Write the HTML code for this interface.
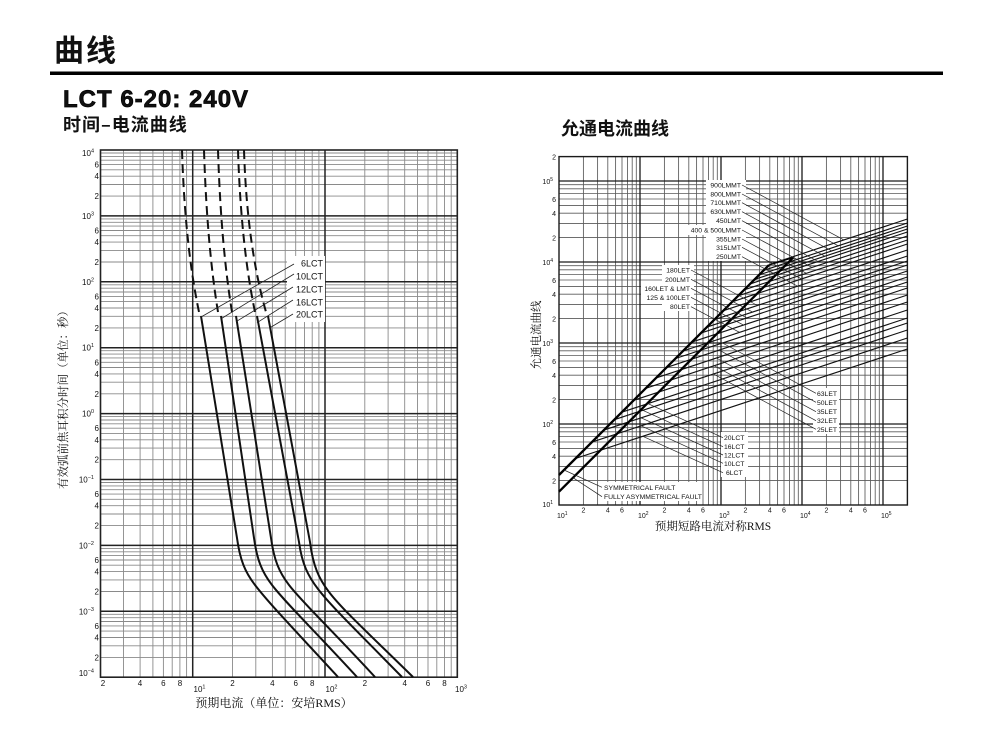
<!DOCTYPE html>
<html><head><meta charset="utf-8"><style>
html,body{margin:0;padding:0;background:#fff;}
svg{display:block;}
text{font-family:"Liberation Sans","Noto Sans CJK SC",sans-serif;fill:#111;}
.cjk{font-family:"Noto Sans CJK SC",sans-serif;font-weight:bold;}
.ser{font-family:"Liberation Serif","Noto Serif CJK SC",serif;}
</style></head><body>
<svg width="987" height="751" viewBox="0 0 987 751" xmlns="http://www.w3.org/2000/svg">
<rect width="987" height="751" fill="#fff"/>
<!-- Headings -->
<text x="54" y="61" class="cjk" font-size="30" letter-spacing="2">曲线</text>
<rect x="50" y="71.5" width="893" height="3.5" fill="#000"/>
<text x="63" y="107" font-size="24" font-weight="bold" letter-spacing="1" stroke="#000" stroke-width="0.7" fill="#000">LCT 6-20: 240V</text>
<text x="63" y="131" class="cjk" font-size="18" letter-spacing="1">时间–电流曲线</text>
<text x="561" y="135" class="cjk" font-size="18">允通电流曲线</text>

<!-- ============ LEFT CHART ============ -->
<g fill="none">
<path stroke="#8a8a8a" stroke-width="0.9" d="M123.5,150V677.2M140.1,150V677.2M152.9,150V677.2M163.4,150V677.2M172.2,150V677.2M179.9,150V677.2M186.6,150V677.2M232.5,150V677.2M255.8,150V677.2M272.4,150V677.2M285.2,150V677.2M295.7,150V677.2M304.5,150V677.2M312.2,150V677.2M318.9,150V677.2M364.8,150V677.2M388.1,150V677.2M404.7,150V677.2M417.5,150V677.2M428,150V677.2M436.8,150V677.2M444.5,150V677.2M451.2,150V677.2"/>
<path stroke="#8a8a8a" stroke-width="0.9" d="M100.5,196.1H457.3M100.5,184.5H457.3M100.5,176.2H457.3M100.5,169.8H457.3M100.5,164.6H457.3M100.5,160.2H457.3M100.5,156.4H457.3M100.5,153H457.3
M100.5,262H457.3M100.5,250.4H457.3M100.5,242.1H457.3M100.5,235.7H457.3M100.5,230.5H457.3M100.5,226.1H457.3M100.5,222.3H457.3M100.5,218.9H457.3
M100.5,327.9H457.3M100.5,316.3H457.3M100.5,308H457.3M100.5,301.6H457.3M100.5,296.4H457.3M100.5,292H457.3M100.5,288.2H457.3M100.5,284.8H457.3
M100.5,393.8H457.3M100.5,382.2H457.3M100.5,373.9H457.3M100.5,367.5H457.3M100.5,362.3H457.3M100.5,357.9H457.3M100.5,354.1H457.3M100.5,350.7H457.3
M100.5,459.7H457.3M100.5,448.1H457.3M100.5,439.8H457.3M100.5,433.4H457.3M100.5,428.2H457.3M100.5,423.8H457.3M100.5,420H457.3M100.5,416.6H457.3
M100.5,525.6H457.3M100.5,514H457.3M100.5,505.7H457.3M100.5,499.3H457.3M100.5,494.1H457.3M100.5,489.7H457.3M100.5,485.9H457.3M100.5,482.5H457.3
M100.5,591.5H457.3M100.5,579.9H457.3M100.5,571.6H457.3M100.5,565.2H457.3M100.5,560H457.3M100.5,555.6H457.3M100.5,551.8H457.3M100.5,548.4H457.3
M100.5,657.4H457.3M100.5,645.8H457.3M100.5,637.5H457.3M100.5,631.1H457.3M100.5,625.9H457.3M100.5,621.5H457.3M100.5,617.7H457.3M100.5,614.3H457.3"/>
<path stroke="#222" stroke-width="1.5" d="M192.7,150V677.2M325,150V677.2M100.5,215.9H457.3M100.5,281.8H457.3M100.5,347.7H457.3M100.5,413.6H457.3M100.5,479.5H457.3M100.5,545.4H457.3M100.5,611.3H457.3"/>
<rect x="100.5" y="150" width="356.8" height="527.2" stroke="#222" stroke-width="1.6"/>
</g>
<!-- label box -->
<rect x="287" y="256" width="38" height="66" fill="#fff"/>
<!-- dashed parts -->
<g fill="none" stroke="#111" stroke-width="2" stroke-dasharray="9,5">
<path d="M182,150 Q185,245 199,312"/>
<path d="M204,150 Q207,245 218,312"/>
<path d="M218,150 Q221,245 232,312"/>
<path d="M238,150 Q241,245 255,312"/>
<path d="M244,150 Q247,245 266,312"/>
</g>
<!-- solid parts -->
<g fill="none" stroke="#111" stroke-width="2">
<path d="M201,316 L237,538 C240,560 245,572 255,585 C268,602 290,625 338,677"/>
<path d="M221,316 L254,538 C257,560 262,572 272,585 C285,602 309,625 357,677"/>
<path d="M236,316 L271,538 C274,560 279,572 289,585 C302,602 327,625 375,677"/>
<path d="M257,316 L299,542 C302,564 308,576 318,589 C331,606 354,628 402,677"/>
<path d="M268,316 L310,542 C313,566 319,579 329,592 C342,609 365,630 413,677"/>
</g>
<!-- leaders -->
<g stroke="#222" stroke-width="0.8" fill="none">
<path d="M294,264L201,317M294,274L221.5,318.5M293,287L236,321.7M293,300L257,322.7M293,314L269.5,328"/>
</g>
<g font-size="9" text-anchor="end">
<text x="323" y="266.5">6LCT</text>
<text x="323" y="279.5">10LCT</text>
<text x="323" y="292.5">12LCT</text>
<text x="323" y="305.5">16LCT</text>
<text x="323" y="317.5">20LCT</text>
</g>
<!-- left y tick labels -->
<g font-size="8" text-anchor="end">
<text x="94" y="156">10<tspan dy="-3.5" font-size="5.5">4</tspan></text>
<text x="94" y="219">10<tspan dy="-3.5" font-size="5.5">3</tspan></text>
<text x="94" y="284.8">10<tspan dy="-3.5" font-size="5.5">2</tspan></text>
<text x="94" y="350.7">10<tspan dy="-3.5" font-size="5.5">1</tspan></text>
<text x="94" y="416.6">10<tspan dy="-3.5" font-size="5.5">0</tspan></text>
<text x="94" y="482.5">10<tspan dy="-3.5" font-size="5.5">−1</tspan></text>
<text x="94" y="548.4">10<tspan dy="-3.5" font-size="5.5">−2</tspan></text>
<text x="94" y="614.3">10<tspan dy="-3.5" font-size="5.5">−3</tspan></text>
<text x="94" y="676">10<tspan dy="-3.5" font-size="5.5">−4</tspan></text>
<text x="99" y="167.6">6</text><text x="99" y="179.2">4</text><text x="99" y="199.1">2</text>
<text x="99" y="233.5">6</text><text x="99" y="245.1">4</text><text x="99" y="265">2</text>
<text x="99" y="299.4">6</text><text x="99" y="311">4</text><text x="99" y="330.9">2</text>
<text x="99" y="365.3">6</text><text x="99" y="376.9">4</text><text x="99" y="396.8">2</text>
<text x="99" y="431.2">6</text><text x="99" y="442.8">4</text><text x="99" y="462.7">2</text>
<text x="99" y="497.1">6</text><text x="99" y="508.7">4</text><text x="99" y="528.6">2</text>
<text x="99" y="563">6</text><text x="99" y="574.6">4</text><text x="99" y="594.5">2</text>
<text x="99" y="628.9">6</text><text x="99" y="640.5">4</text><text x="99" y="660.4">2</text>
</g>
<!-- left x tick labels -->
<g font-size="8" text-anchor="middle">
<text x="103" y="686">2</text><text x="140" y="686">4</text><text x="163.4" y="686">6</text><text x="180" y="686">8</text>
<text x="232.5" y="686">2</text><text x="272.4" y="686">4</text><text x="295.7" y="686">6</text><text x="312.2" y="686">8</text>
<text x="364.8" y="686">2</text><text x="404.7" y="686">4</text><text x="428" y="686">6</text><text x="444.5" y="686">8</text>
</g>
<g font-size="8">
<text x="193.5" y="692">10<tspan dy="-3.5" font-size="5.5">1</tspan></text>
<text x="325.5" y="692">10<tspan dy="-3.5" font-size="5.5">2</tspan></text>
<text x="455" y="692">10<tspan dy="-3.5" font-size="5.5">3</tspan></text>
</g>
<text x="274" y="707" class="ser" font-size="12" text-anchor="middle">预期电流（单位：安培RMS）</text>
<text transform="translate(67,397) rotate(-90)" class="ser" font-size="11.5" text-anchor="middle">有效弧前焦耳积分时间（单位：秒）</text>

<!-- ============ RIGHT CHART ============ -->
<g fill="none">
<path stroke="#5a5a5a" stroke-width="0.85" d="M583.4,156.6V505M597.6,156.6V505M607.8,156.6V505M615.6,156.6V505M622,156.6V505M627.5,156.6V505M632.2,156.6V505M636.3,156.6V505M664.4,156.6V505M678.6,156.6V505M688.8,156.6V505M696.6,156.6V505M703,156.6V505M708.5,156.6V505M713.2,156.6V505M717.3,156.6V505M745.4,156.6V505M759.6,156.6V505M769.8,156.6V505M777.6,156.6V505M784,156.6V505M789.5,156.6V505M794.2,156.6V505M798.3,156.6V505M826.4,156.6V505M840.6,156.6V505M850.8,156.6V505M858.6,156.6V505M865,156.6V505M870.5,156.6V505M875.2,156.6V505M879.3,156.6V505"/>
<path stroke="#5a5a5a" stroke-width="0.85" d="M559,480.6H907.4M559,466.4H907.4M559,456.2H907.4M559,448.4H907.4M559,442H907.4M559,436.5H907.4M559,431.8H907.4M559,427.7H907.4
M559,399.6H907.4M559,385.4H907.4M559,375.2H907.4M559,367.4H907.4M559,361H907.4M559,355.5H907.4M559,350.8H907.4M559,346.7H907.4
M559,318.6H907.4M559,304.4H907.4M559,294.2H907.4M559,286.4H907.4M559,280H907.4M559,274.5H907.4M559,269.8H907.4M559,265.7H907.4
M559,237.6H907.4M559,223.4H907.4M559,213.2H907.4M559,205.4H907.4M559,199H907.4M559,193.5H907.4M559,188.8H907.4M559,184.7H907.4"/>
<path stroke="#1a1a1a" stroke-width="1.3" d="M640,156.6V505M721,156.6V505M802,156.6V505M883,156.6V505M559,424H907.4M559,343H907.4M559,262H907.4M559,181H907.4"/>
<rect x="559" y="156.6" width="348.4" height="348.4" stroke="#1a1a1a" stroke-width="1.4"/>
</g>
<!-- thin let-through lines -->
<g stroke="#111" stroke-width="1.15" fill="none">
<path d="M769.6,264.4L907.4,219M763.6,270.4L907.4,223M759.1,274.9L907.4,226M754.6,279.4L907.4,229M750.1,283.9L907.4,232M744.2,289.8L907.4,236M738.2,295.8L907.4,240M732.2,301.8L907.4,244M723.3,310.7L907.4,250M714.3,319.7L907.4,256M706.9,327.1L907.4,261M700.9,333.1L907.4,265M691.9,342.1L907.4,271M683,351L907.4,277M675.5,358.5L907.4,282M666.6,367.4L907.4,288M656.1,377.9L907.4,295M645.7,388.3L907.4,302M633.7,400.3L907.4,310M621.8,412.2L907.4,318M614.3,419.7L907.4,323M603.9,430.1L907.4,330M591.9,442.1L907.4,338M575.5,458.5L907.4,349"/>
</g>
<!-- thick fault lines -->
<g stroke="#000" fill="none">
<path stroke-width="2.3" d="M559,475L769,265"/>
<path stroke-width="1.4" d="M769,265L792,258"/>
<path stroke-width="2.3" d="M559,491.7L793.3,257.4"/>
</g>
<!-- white label boxes -->
<g fill="#fff">
<rect x="706" y="180" width="40" height="81"/>
<rect x="688" y="225" width="20" height="10"/>
<rect x="662" y="265" width="32" height="46"/>
<rect x="641" y="283" width="22" height="19"/>
<rect x="813" y="388" width="26" height="46"/>
<rect x="721" y="432" width="27" height="45"/>
<rect x="600" y="482" width="102" height="19"/>
</g>
<!-- leaders -->
<g stroke="#222" stroke-width="0.7" fill="none">
<path d="M742,185L843.9,239.9M742,194L838.2,245.8M742,202.7L831.7,250.9M742,211.7L824.9,256.2M742,220.7L818.1,261.5M742,230L812,267.4M742,239L806.4,273.3M742,247.3L801.5,278.9M742,256.7L797.6,286.2"/>
<path d="M691,270L757.5,305.5M691,279.3L752.6,312.1M691,288.3L746.9,317.9M691,297.3L743.5,325.1M691,306.7L739.7,332.4"/>
<path d="M816,393.3L722.5,343M816,402.3L719.1,350.1M816,411.7L716.4,358M816,420.7L714.1,365.7M816,429.3L713.4,373.9"/>
<path d="M723,437.7L647.8,403.6M723,446.7L642.8,410.3M723,455L641.1,417.8M723,463.3L640.8,425.7M723,472.7L642.8,436.3"/>
<path d="M602,487.3L564,470M602,496.7L573,477.7"/>
</g>
<g font-size="6.8" text-anchor="end">
<text x="741" y="187.5">900LMMT</text>
<text x="741" y="196.5">800LMMT</text>
<text x="741" y="205.2">710LMMT</text>
<text x="741" y="214.2">630LMMT</text>
<text x="741" y="223.2">450LMT</text>
<text x="741" y="232.5">400 &amp; 500LMMT</text>
<text x="741" y="241.5">355LMT</text>
<text x="741" y="249.8">315LMT</text>
<text x="741" y="259.2">250LMT</text>
<text x="690" y="272.5">180LET</text>
<text x="690" y="281.8">200LMT</text>
<text x="690" y="290.8">160LET &amp; LMT</text>
<text x="690" y="299.8">125 &amp; 100LET</text>
<text x="690" y="309.2">80LET</text>
</g>
<g font-size="6.8">
<text x="817" y="395.8">63LET</text>
<text x="817" y="404.8">50LET</text>
<text x="817" y="414.2">35LET</text>
<text x="817" y="423.2">32LET</text>
<text x="817" y="431.8">25LET</text>
<text x="724" y="440.2">20LCT</text>
<text x="724" y="449.2">16LCT</text>
<text x="724" y="457.5">12LCT</text>
<text x="724" y="465.8">10LCT</text>
<text x="726" y="475.2">6LCT</text>
<text x="604" y="489.8">SYMMETRICAL FAULT</text>
<text x="604" y="499.2">FULLY ASYMMETRICAL FAULT</text>
</g>
<!-- right y tick labels -->
<g font-size="7" text-anchor="end">
<text x="556" y="159.5">2</text>
<text x="553" y="184">10<tspan dy="-3" font-size="5">5</tspan></text>
<text x="556" y="202">6</text><text x="556" y="216.2">4</text><text x="556" y="240.6">2</text>
<text x="553" y="265">10<tspan dy="-3" font-size="5">4</tspan></text>
<text x="556" y="283">6</text><text x="556" y="297.2">4</text><text x="556" y="321.6">2</text>
<text x="553" y="346">10<tspan dy="-3" font-size="5">3</tspan></text>
<text x="556" y="364">6</text><text x="556" y="378.2">4</text><text x="556" y="402.6">2</text>
<text x="553" y="427">10<tspan dy="-3" font-size="5">2</tspan></text>
<text x="556" y="445">6</text><text x="556" y="459.2">4</text><text x="556" y="483.6">2</text>
<text x="553" y="507">10<tspan dy="-3" font-size="5">1</tspan></text>
</g>
<!-- right x tick labels -->
<g font-size="7" text-anchor="middle">
<text x="583.4" y="512.5">2</text><text x="607.8" y="512.5">4</text><text x="622" y="512.5">6</text>
<text x="664.4" y="512.5">2</text><text x="688.8" y="512.5">4</text><text x="703" y="512.5">6</text>
<text x="745.4" y="512.5">2</text><text x="769.8" y="512.5">4</text><text x="784" y="512.5">6</text>
<text x="826.4" y="512.5">2</text><text x="850.8" y="512.5">4</text><text x="865" y="512.5">6</text>
</g>
<g font-size="7">
<text x="557" y="518">10<tspan dy="-3" font-size="5">1</tspan></text>
<text x="638" y="518">10<tspan dy="-3" font-size="5">2</tspan></text>
<text x="719" y="518">10<tspan dy="-3" font-size="5">3</tspan></text>
<text x="800" y="518">10<tspan dy="-3" font-size="5">4</tspan></text>
<text x="881" y="518">10<tspan dy="-3" font-size="5">5</tspan></text>
</g>
<text x="713" y="530" class="ser" font-size="11.5" text-anchor="middle">预期短路电流对称RMS</text>
<text transform="translate(540,335) rotate(-90)" class="ser" font-size="11.5" text-anchor="middle">允通电流曲线</text>
</svg>
</body></html>
